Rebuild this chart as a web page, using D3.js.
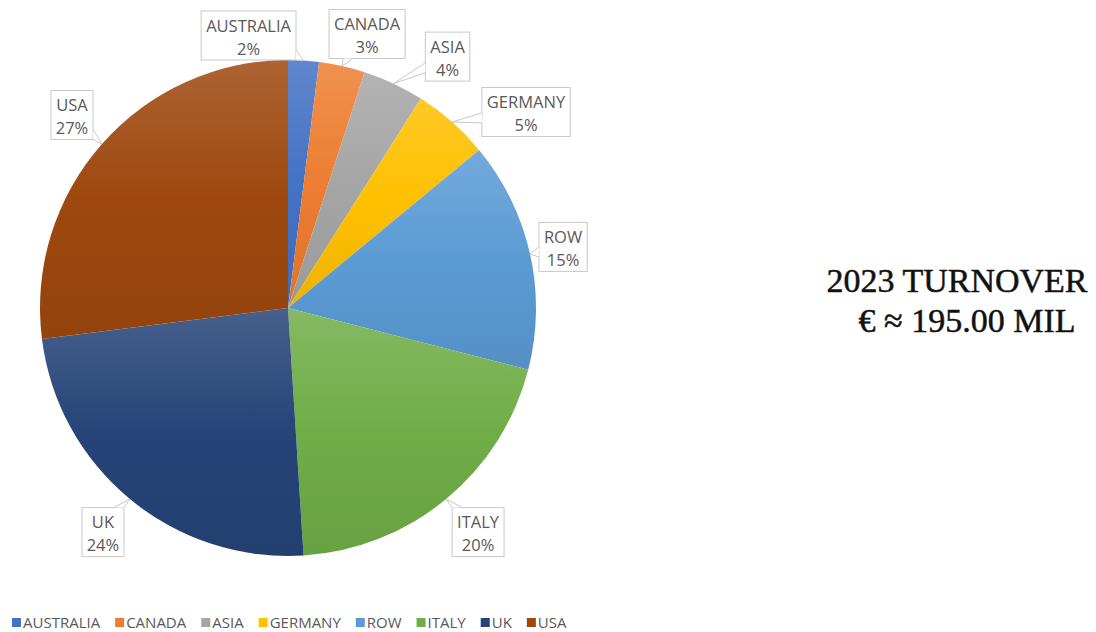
<!DOCTYPE html>
<html lang="en">
<head>
    <meta charset="UTF-8">
    <title>2023 Turnover</title>
    <script src="https://d3js.org/d3.v7.min.js"></script>
    <style>
        body { margin: 0; background: #fff; }
        .lbl { font-family: "Open Sans", "Noto Sans", sans-serif; font-size: 16.5px; fill: #595959; }
        .leg { font-family: "Open Sans", "Noto Sans", sans-serif; font-size: 15px; fill: #595959; }
        .title { font-family: "Liberation Serif", "DejaVu Serif", serif; font-size: 34px; fill: #111;
                 stroke: #111; stroke-width: 0.5px; }
    </style>
</head>
<body>
<svg height="632" width="1096"></svg>

<script>
    const categories = ["AUSTRALIA", "CANADA", "ASIA", "GERMANY", "ROW", "ITALY", "UK", "USA"];
    const shares = [2, 3, 4, 5, 15, 20, 24, 27];
    const colors = ["#4472C4", "#ED7D31", "#A5A5A5", "#FFC000", "#5B9BD5", "#70AD47", "#264478", "#9E480E"];
    const titleLines = ["2023 TURNOVER", "\u20AC \u2248 195.00 MIL"];

    // where each callout box sits, relative to the rim point of its slice
    const labelNudge = [[-55, -25], [25, -32], [54, -27], [74, -10], [33, -7], [32, 33], [-27, 33], [-30, -29]];

    const svg = d3.select("svg");
    const cx = 288, cy = 308, r = 248;

    const data = categories.map((c, i) => ({name: c, value: shares[i], color: colors[i], i: i}));

    const pie = d3.pie().sort(null).value(d => d.value);
    const arc = d3.arc().innerRadius(0).outerRadius(r);
    const arcs = pie(data);

    const defs = svg.append("defs");
    arcs.forEach(a => {
        const base = d3.color(a.data.color);
        const g = defs.append("linearGradient")
                .attr("id", "grad" + a.index)
                .attr("x1", 0).attr("y1", 0).attr("x2", 0).attr("y2", 1);
        g.append("stop").attr("offset", "0%").attr("stop-color", d3.interpolateRgb(base, "#fff")(0.15));
        g.append("stop").attr("offset", "50%").attr("stop-color", base);
        g.append("stop").attr("offset", "100%").attr("stop-color", base.darker(0.2));
    });

    const gPie = svg.append("g").attr("transform", `translate(${cx},${cy})`);
    gPie.selectAll("path")
            .data(arcs)
            .enter()
            .append("path")
            .attr("d", arc)
            .style("fill", d => `url(#grad${d.index})`);

    // callouts
    const gLab = svg.append("g").attr("transform", `translate(${cx},${cy})`);
    arcs.forEach(a => {
        const mid = (a.startAngle + a.endAngle) / 2;
        const tip = [Math.sin(mid) * r, -Math.cos(mid) * r];
        const bc = [tip[0] + labelNudge[a.index][0], tip[1] + labelNudge[a.index][1]];

        const g = gLab.append("g");
        const t1 = g.append("text").attr("class", "lbl").attr("text-anchor", "middle")
                .attr("x", bc[0]).attr("y", bc[1] - 4).text(a.data.name);
        g.append("text").attr("class", "lbl").attr("text-anchor", "middle")
                .attr("x", bc[0]).attr("y", bc[1] + 19).text(a.data.value + "%");
        const w = Math.max(t1.node().getComputedTextLength(), 32) + 10;
        const h = 49;
        const x0 = bc[0] - w / 2, y0 = bc[1] - h / 2, x1 = x0 + w, y1 = y0 + h;

        // point where the pointer leaves the box
        const dx = tip[0] - bc[0], dy = tip[1] - bc[1];
        const s = Math.min(Math.abs((w / 2) / (dx || 1e-6)), Math.abs((h / 2) / (dy || 1e-6)));
        const ex = bc[0] + dx * s, ey = bc[1] + dy * s;
        let b1, b2;
        const half = 5;
        if (Math.abs(Math.abs(ex - bc[0]) - w / 2) < 0.5) {
            const yy = Math.max(y0 + half, Math.min(y1 - half, ey));
            b1 = [ex, yy - half]; b2 = [ex, yy + half];
        } else {
            const xx = Math.max(x0 + half, Math.min(x1 - half, ex));
            b1 = [xx - half, ey]; b2 = [xx + half, ey];
        }

        g.insert("rect", "text")
                .attr("x", x0).attr("y", y0).attr("width", w).attr("height", h)
                .style("fill", "#fff").style("stroke", "#c8c8c8").style("stroke-width", 1);
        g.insert("path", "text")
                .attr("d", d3.line()([b1, tip, b2]) + "Z")
                .style("fill", "#fff").style("stroke", "none");
        g.insert("path", "text")
                .attr("d", d3.line()([b1, tip, b2]))
                .style("fill", "none").style("stroke", "#c8c8c8").style("stroke-width", 1);
    });

    // legend
    const leg = svg.append("g").attr("transform", "translate(12,628)");
    let lx = 0;
    data.forEach(d => {
        const it = leg.append("g").attr("transform", `translate(${lx},0)`);
        it.append("rect").attr("x", 0).attr("y", -10).attr("width", 9).attr("height", 9).style("fill", d.color);
        const t = it.append("text").attr("class", "leg").attr("x", 11).attr("y", 0).text(d.name);
        lx += 11 + t.node().getComputedTextLength() + 15;
    });

    // title
    svg.append("text").attr("class", "title").attr("text-anchor", "middle")
            .attr("x", 957).attr("y", 292).text(titleLines[0]);
    svg.append("text").attr("class", "title").attr("text-anchor", "middle")
            .attr("x", 967).attr("y", 332).text(titleLines[1]);
</script>

</body>
</html>
